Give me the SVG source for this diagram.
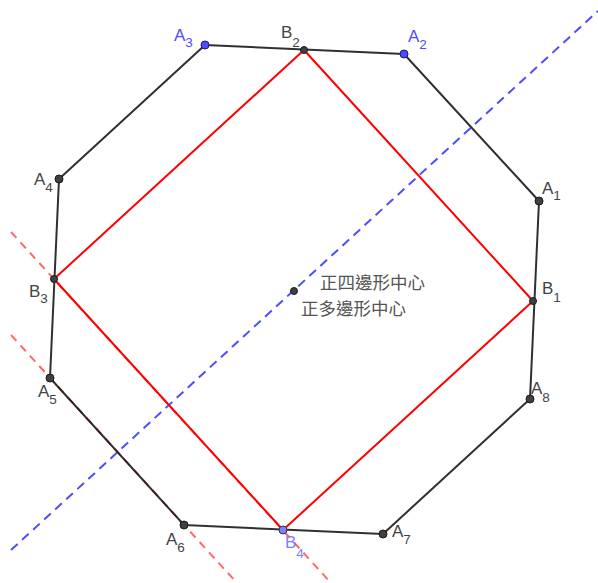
<svg xmlns="http://www.w3.org/2000/svg" width="598" height="583" viewBox="0 0 598 583">
<style>
.poly{fill:none;stroke:#1a1a1a;stroke-width:2;stroke-opacity:0.9;stroke-linejoin:round}
.sq{fill:none;stroke:#ff0000;stroke-width:2;stroke-linejoin:round}
.rd{stroke:#ff4d4d;stroke-opacity:0.85;stroke-width:2;stroke-dasharray:8,6;fill:none}
.bd{stroke:#4d4dff;stroke-width:2;stroke-dasharray:9,6;fill:none}
.pt{fill:#404040;stroke:#1a1a1a;stroke-width:1}
.ptb{fill:#4d4dff;stroke:#1a1a66;stroke-width:1}
.ptl{fill:#8080ff;stroke:#333355;stroke-width:1}
.lb{font-family:"Liberation Sans",Arial,sans-serif;font-size:17px;fill:#444}
.sub{font-size:13.5px}
.blue{fill:#4d4dff}
.lblue{fill:#8080ff}
.cj{font-family:"Liberation Sans","Noto Sans CJK TC",sans-serif;font-size:17.5px;fill:#555}
</style>
<g id="connectors">
<line class="bd" x1="11" y1="550" x2="598" y2="11"/>
<line class="rd" x1="11" y1="232" x2="331" y2="583"/>
<line class="rd" x1="11" y1="335" x2="237" y2="583"/>
<polygon class="sq" points="533,301 304,50 54,279 283,530"/>
<polygon class="poly" points="539,201 404,54 205,45 59,179 50,378 184,525 383,534 530,399"/>
</g>
<g id="A1"><circle class="pt" cx="539" cy="201" r="4"/><text class="lb" x="542" y="194">A<tspan class="sub" dy="6">1</tspan></text></g>
<g id="A2"><circle class="ptb" cx="404" cy="54" r="4"/><text class="lb blue" x="408" y="42">A<tspan class="sub" dy="7">2</tspan></text></g>
<g id="A3"><circle class="ptb" cx="205" cy="45" r="4"/><text class="lb blue" x="174" y="41">A<tspan class="sub" dy="6">3</tspan></text></g>
<g id="A4"><circle class="pt" cx="59" cy="179" r="4"/><text class="lb" x="34" y="185">A<tspan class="sub" dy="7">4</tspan></text></g>
<g id="A5"><circle class="pt" cx="50" cy="378" r="4"/><text class="lb" x="38" y="397">A<tspan class="sub" dy="7">5</tspan></text></g>
<g id="A6"><circle class="pt" cx="184" cy="525" r="4"/><text class="lb" x="166" y="545">A<tspan class="sub" dy="7">6</tspan></text></g>
<g id="A7"><circle class="pt" cx="383" cy="534" r="4"/><text class="lb" x="392" y="537">A<tspan class="sub" dy="7">7</tspan></text></g>
<g id="A8"><circle class="pt" cx="530" cy="399" r="4"/><text class="lb" x="531" y="394">A<tspan class="sub" dy="8">8</tspan></text></g>
<g id="B1"><circle class="pt" cx="533" cy="301" r="3.5"/><text class="lb" x="542" y="294">B<tspan class="sub" dy="8">1</tspan></text></g>
<g id="B2"><circle class="pt" cx="304" cy="50" r="3.5"/><text class="lb" x="281" y="38">B<tspan class="sub" dy="9">2</tspan></text></g>
<g id="B3"><circle class="pt" cx="54" cy="279" r="3.5"/><text class="lb" x="29" y="297">B<tspan class="sub" dy="6">3</tspan></text></g>
<g id="B4"><circle class="ptl" cx="283" cy="530" r="4"/><text class="lb lblue" x="285" y="548">B<tspan class="sub" dy="10">4</tspan></text></g>
<g id="center"><circle class="pt" cx="294" cy="291" r="3.5"/><text class="cj" x="320" y="289">正四邊形中心</text><text class="cj" x="301" y="315">正多邊形中心</text></g>
</svg>
